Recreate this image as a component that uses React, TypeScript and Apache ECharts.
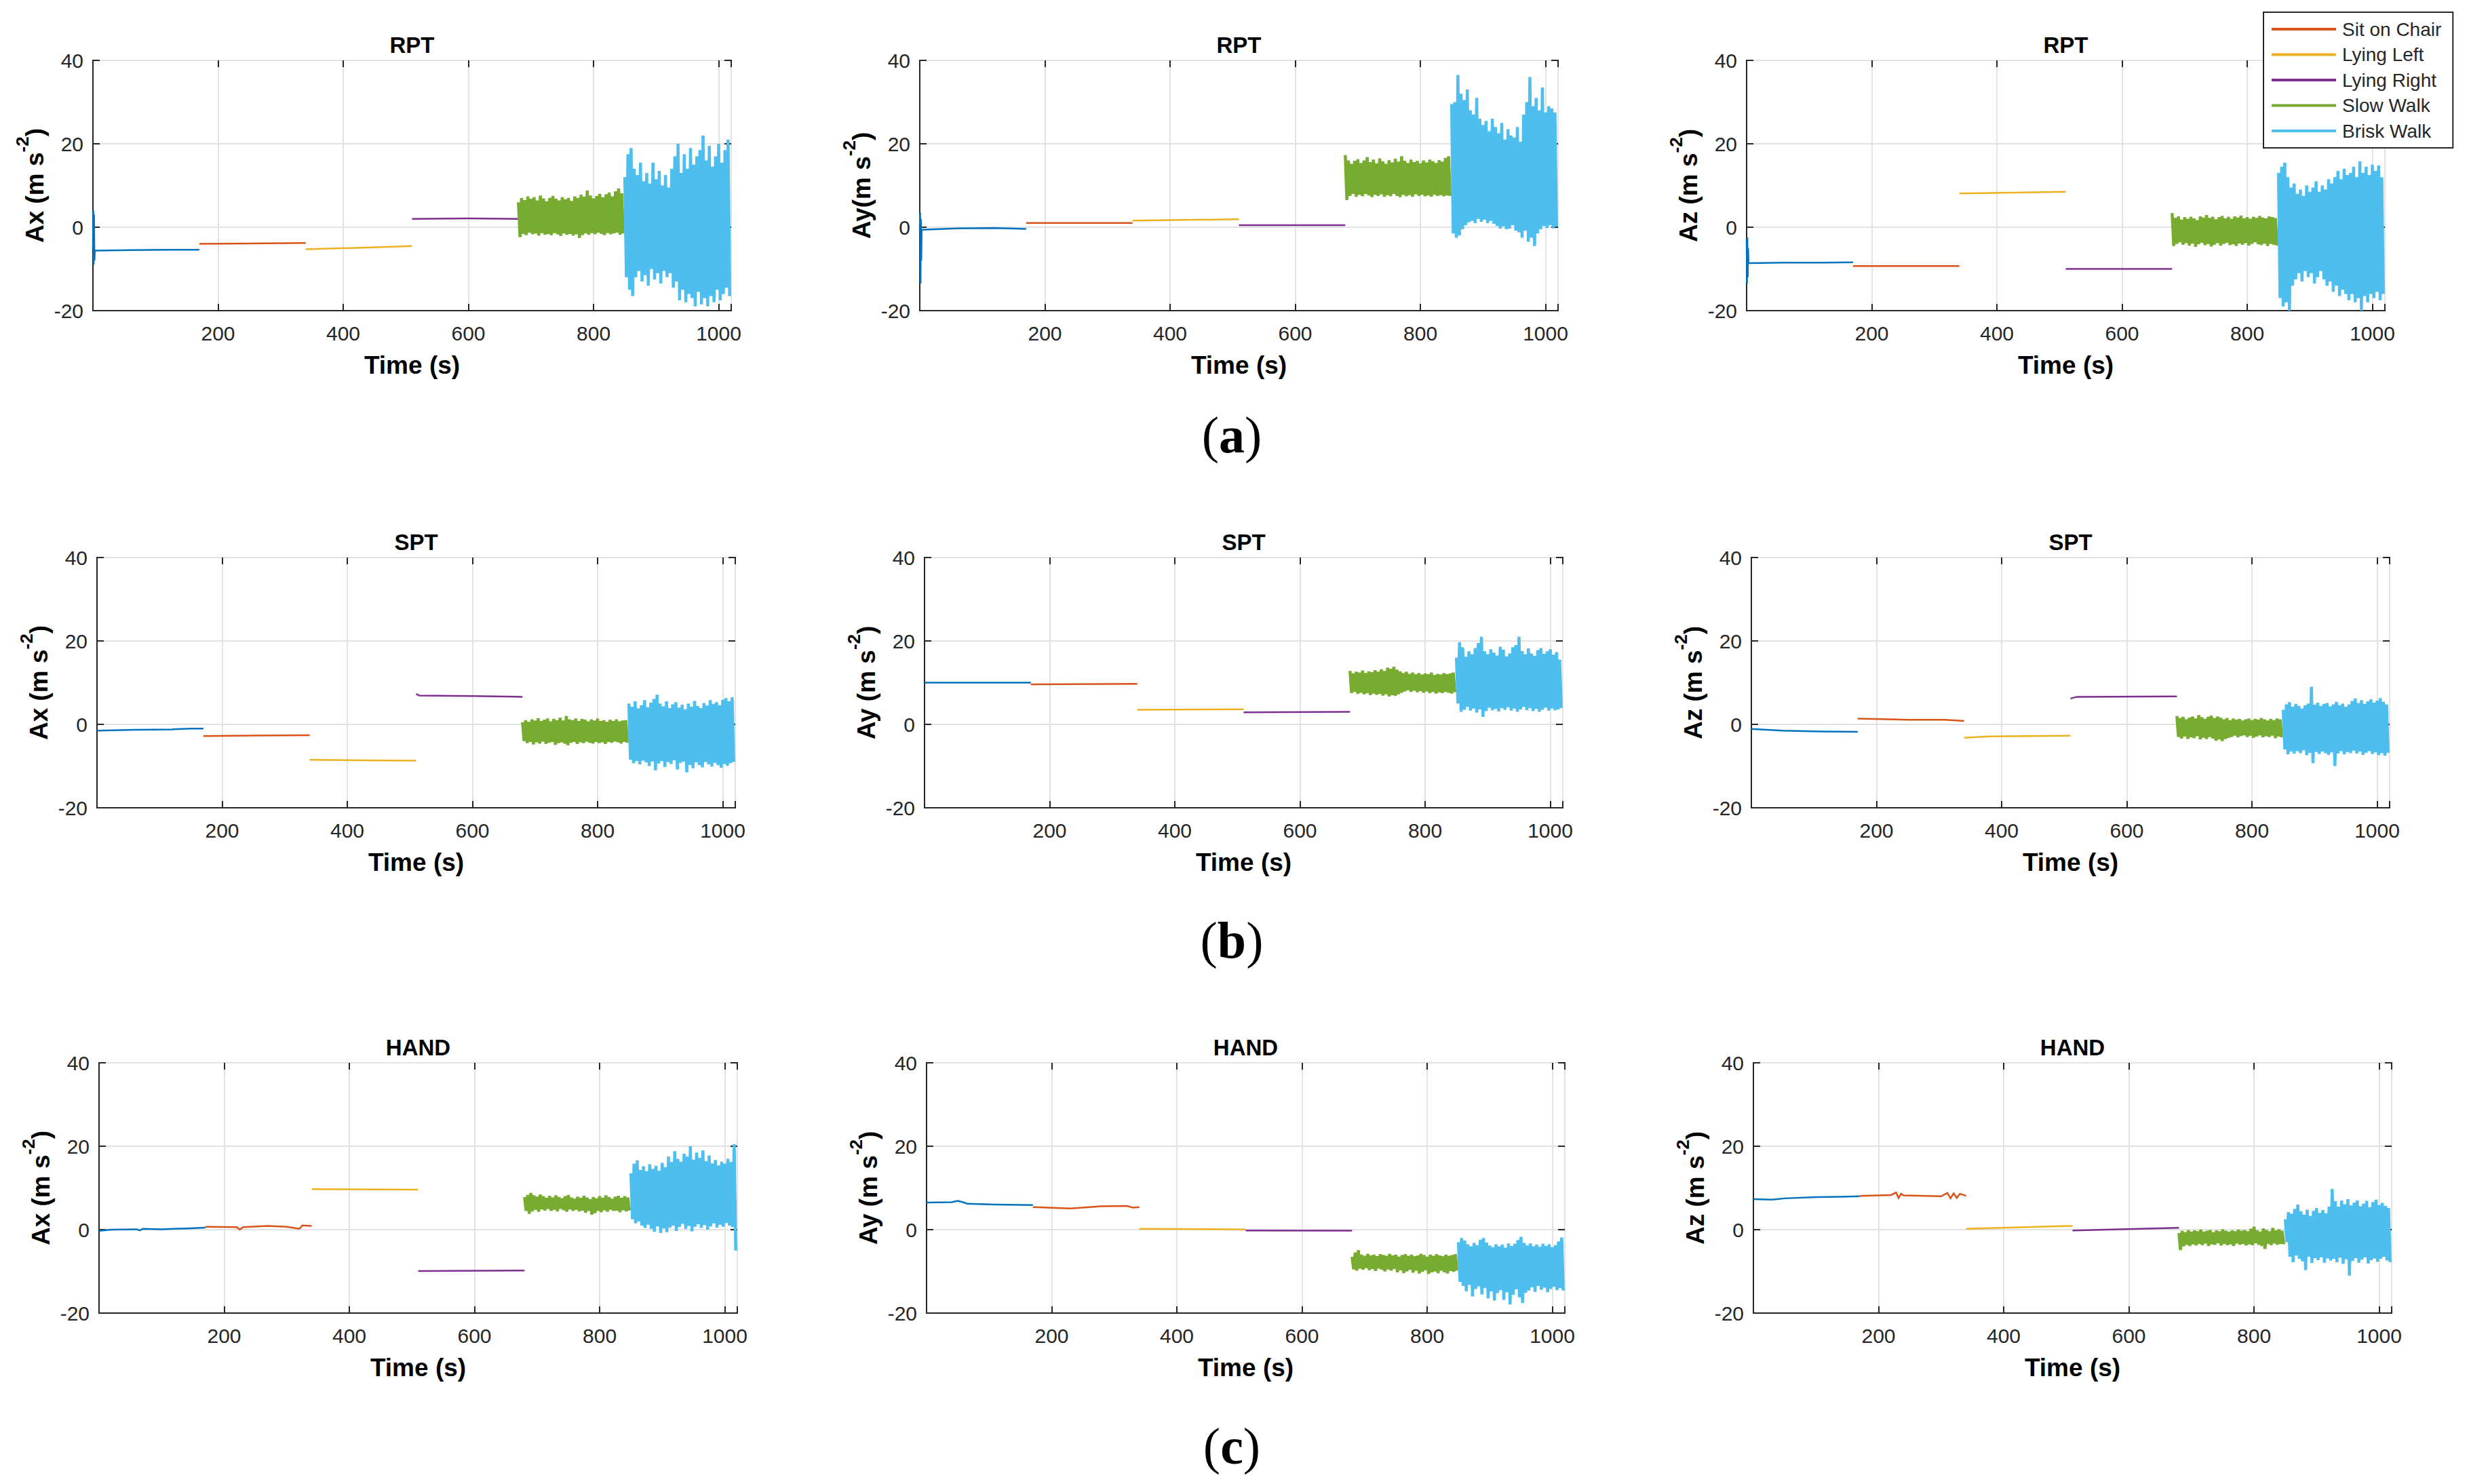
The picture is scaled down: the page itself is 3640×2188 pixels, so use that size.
import React, { useEffect, useRef } from "react";
import * as echarts from "echarts";

// ---------- categories / legend ----------
const ACTIVITIES = ["Standing", "Sit on Chair", "Lying Left", "Lying Right", "Slow Walk", "Brisk Walk"];
const LEGEND_ITEMS = ["Sit on Chair", "Lying Left", "Lying Right", "Slow Walk", "Brisk Walk"];
const COLORS = ["#0072BD", "#D95319", "#EDB120", "#7E2F8E", "#77AC30", "#4DBEEE"];
const X_TICKS = [200, 400, 600, 800, 1000];
const Y_TICKS = [-20, 0, 20, 40];
const SLOW_START = 680;
const BRISK_START = 850;
const WALK_LEN = 170;

// ---------- RPT Ax ----------
const RPT_AX_STAND = [[0, -5.2], [0.6, 4], [1.2, -9], [1.8, 3], [2.4, -8], [3, -5.6], [60, -5.5], [120, -5.4], [170, -5.4]];
const RPT_AX_SIT = [[170, -4.0], [250, -3.9], [340, -3.8]];
const RPT_AX_LL = [[340, -5.3], [430, -4.9], [510, -4.5]];
const RPT_AX_LR = [[510, 2.0], [600, 2.1], [680, 2.0]];
const RPT_AX_SLOW_HI = [6.0, 7.0, 6.5, 7.4, 6.8, 7.2, 6.4, 7.6, 6.9, 6.2, 7.0, 7.5, 6.8, 6.4, 7.2, 6.7, 7.0, 6.3, 7.4, 7.0, 7.8, 7.3, 8.8, 7.6, 6.9, 7.5, 8.0, 7.2, 7.9, 8.3, 7.4, 8.6, 9.3, 8.1];
const RPT_AX_SLOW_LO = [-2.4, -1.6, -1.9, -1.3, -1.7, -1.5, -2.0, -1.4, -1.8, -1.6, -1.9, -1.4, -1.7, -2.1, -1.5, -1.8, -1.6, -2.0, -1.7, -2.6, -1.9, -1.5, -1.8, -1.4, -1.7, -1.3, -1.6, -1.9, -1.4, -1.7, -1.5, -1.3, -1.8, -1.5];
const RPT_AX_BRISK_HI = [12, 17.5, 19, 14, 12.5, 15.5, 11, 13, 10.5, 15.5, 11.5, 13.5, 10, 12.5, 9.5, 14, 17, 20, 13, 17.5, 14, 19, 15, 17, 18.5, 22, 16, 19.5, 14.5, 17, 20, 15.5, 18.5, 21];
const RPT_AX_BRISK_LO = [-12, -15, -16.5, -12, -10.5, -13, -11.5, -14, -10, -12.5, -11, -13.5, -10.5, -12, -11, -14.5, -13, -17.5, -15, -18, -16, -17, -19, -15.5, -18.5, -17, -19, -16.5, -18, -15, -17.5, -16, -14.5, -16.5];

// ---------- RPT Ay ----------
const RPT_AY_STAND = [[0, -0.5], [0.6, 3.5], [1.2, -13.5], [1.8, 2], [2.4, -8], [3, -0.6], [60, -0.3], [120, -0.2], [170, -0.4]];
const RPT_AY_SIT = [[170, 1.0], [340, 1.0]];
const RPT_AY_LL = [[340, 1.6], [510, 1.9]];
const RPT_AY_LR = [[510, 0.5], [680, 0.5]];
const RPT_AY_SLOW_HI = [17.3, 16.0, 15.2, 15.9, 16.3, 15.4, 16.0, 16.8, 15.6, 16.2, 15.3, 16.5, 15.8, 15.2, 16.1, 15.5, 16.4, 15.7, 17.0, 15.9, 15.4, 16.2, 15.6, 15.9, 15.3, 16.0, 15.5, 16.2, 15.8, 15.4, 16.1, 15.7, 16.6, 17.0];
const RPT_AY_SLOW_LO = [6.5, 7.5, 8.0, 7.3, 7.8, 7.4, 8.0, 7.6, 7.2, 7.8, 7.5, 7.9, 7.3, 7.7, 7.4, 8.0, 7.5, 7.2, 7.8, 7.4, 7.7, 7.3, 7.9, 7.5, 7.8, 7.4, 7.6, 7.3, 7.8, 7.5, 7.7, 7.4, 7.6, 7.5];
const RPT_AY_BRISK_HI = [29.5, 30, 36.5, 32, 30.5, 33, 28, 27, 31, 26, 24.5, 25.5, 23, 26, 24, 22.5, 25, 21, 23.5, 22, 21.5, 24, 20.5, 27, 30, 36, 29, 31, 28, 33.5, 27.5, 29, 28.5, 27.5];
const RPT_AY_BRISK_LO = [-1.5, -2.5, -2, -0.5, 0.5, 1.2, 1.5, 1.0, 2.0, 1.3, 1.8, 1.0, 1.5, 0.8, 0.3, -0.3, 0.2, -0.5, -0.3, 0.5, -0.8, -1.2, -2.5, -0.8, -3.5, -2.5, -4.5, -1.5, -0.5, 0.3, -0.2, 0.5, -0.3, 0.2];

// ---------- RPT Az ----------
const RPT_AZ_STAND = [[0, -3], [0.6, -13.5], [1.2, -2.5], [1.8, -12], [2.4, -5], [3, -8.6], [60, -8.5], [120, -8.5], [170, -8.4]];
const RPT_AZ_SIT = [[170, -9.3], [340, -9.3]];
const RPT_AZ_LL = [[340, 8.1], [510, 8.5]];
const RPT_AZ_LR = [[510, -10.0], [680, -10.0]];
const RPT_AZ_SLOW_HI = [3.4, 2.2, 2.6, 1.8, 2.4, 2.0, 2.5, 2.1, 1.7, 2.6, 2.3, 2.9, 2.2, 2.5, 1.9, 2.4, 2.7, 2.1, 2.5, 2.0, 2.6, 2.3, 2.8, 2.1, 2.4, 2.0, 2.5, 2.2, 2.7, 2.3, 2.1, 2.6, 2.4, 2.2];
const RPT_AZ_SLOW_LO = [-4.5, -4.0, -3.6, -4.2, -3.8, -4.4, -3.9, -4.7, -4.1, -3.7, -4.3, -4.0, -4.6, -4.2, -3.8, -4.4, -4.0, -3.7, -4.3, -4.1, -4.5, -3.9, -4.2, -3.8, -4.4, -4.0, -3.6, -4.1, -4.3, -3.9, -4.5, -4.0, -4.2, -4.4];
const RPT_AZ_BRISK_HI = [13, 14.5, 15.5, 12, 9.5, 10.5, 8, 9, 7.5, 10, 8.5, 9.5, 11, 8.5, 10, 9, 11.5, 10.5, 12, 13.5, 11.5, 14, 12.5, 13, 14.5, 12, 15.8, 13, 14.5, 12.5, 15, 13.5, 14.8, 12];
const RPT_AZ_BRISK_LO = [-17, -19, -18, -20, -14, -12.5, -11, -13, -10.5, -12, -11, -13.5, -12, -10.5, -12.5, -14, -13, -15.5, -14, -16.5, -15, -16, -17.5, -16, -18, -17, -20, -16.5, -18, -16, -17, -15.5, -17.5, -16];

// ---------- SPT Ax ----------
const SPT_AX_STAND = [[0, -1.5], [60, -1.3], [120, -1.2], [150, -1.0], [170, -1.0]];
const SPT_AX_SIT = [[170, -2.8], [250, -2.7], [340, -2.6]];
const SPT_AX_LL = [[340, -8.5], [420, -8.6], [510, -8.7]];
const SPT_AX_LR = [[510, 7.3], [515, 6.9], [600, 6.8], [680, 6.6]];
const SPT_AX_SLOW_HI = [0.5, 1.0, 0.6, 1.2, 0.9, 1.5, 0.8, 1.1, 1.4, 0.7, 1.3, 1.0, 1.6, 0.9, 2.0, 1.2, 1.0, 1.4, 0.8, 1.3, 1.1, 0.7, 1.2, 0.9, 1.4, 0.8, 1.0, 0.6, 1.1, 0.8, 1.2, 0.7, 0.9, 1.0];
const SPT_AX_SLOW_LO = [-4.0, -4.5, -4.2, -4.8, -4.3, -4.6, -4.1, -4.7, -4.4, -4.2, -4.9, -4.5, -4.3, -4.6, -5.0, -4.4, -4.2, -4.7, -4.3, -4.5, -4.1, -4.4, -4.6, -4.2, -4.5, -4.3, -4.7, -4.2, -4.4, -4.1, -4.3, -4.6, -4.2, -4.4];
const SPT_AX_BRISK_HI = [5.0, 4.2, 5.5, 3.8, 4.6, 5.8, 4.1, 5.2, 6.1, 7.1, 5.0, 4.3, 5.5, 3.9, 4.8, 5.3, 4.0, 4.7, 3.6, 5.0, 4.2, 5.6, 4.4, 3.9, 5.1, 4.5, 5.8, 4.9, 5.3, 4.6, 5.9, 6.3, 5.5, 6.5];
const SPT_AX_BRISK_LO = [-8.5, -9.3, -8.8, -9.6, -8.7, -9.1, -10.0, -8.9, -11.0, -9.4, -8.8, -10.2, -9.0, -9.5, -8.6, -10.8, -9.2, -8.9, -11.5, -9.7, -10.5, -9.1, -9.8, -10.3, -9.0, -9.6, -10.1, -9.2, -9.8, -10.4, -9.5, -9.9, -9.3, -9.0];

// ---------- SPT Ay ----------
const SPT_AY_STAND = [[0, 10.0], [170, 10.0]];
const SPT_AY_SIT = [[170, 9.6], [340, 9.7]];
const SPT_AY_LL = [[340, 3.5], [510, 3.6]];
const SPT_AY_LR = [[510, 2.9], [680, 3.0]];
const SPT_AY_SLOW_HI = [12.8, 12.2, 12.6, 12.4, 12.9, 12.3, 12.7, 12.5, 13.0, 12.6, 13.2, 12.8, 13.6, 13.3, 13.8, 13.1, 12.7, 12.3, 12.6, 12.1, 12.4, 12.0, 12.3, 11.9, 12.2, 12.0, 12.4, 11.8, 12.1, 11.9, 12.3, 12.0, 12.2, 12.4];
const SPT_AY_SLOW_LO = [7.5, 7.8, 7.3, 7.6, 7.2, 7.5, 7.0, 7.4, 7.1, 7.3, 6.9, 7.2, 6.7, 7.0, 6.8, 7.2, 7.6, 7.9, 8.2, 7.8, 8.1, 7.7, 8.0, 7.6, 7.9, 7.5, 7.8, 7.4, 7.7, 7.5, 7.8, 7.6, 7.4, 7.7];
const SPT_AY_BRISK_HI = [16, 19.7, 18.5, 16.2, 17.5, 16.8, 18.3, 19.5, 21, 17.5, 16.8, 18.0, 17.2, 16.5, 18.6, 17.9, 16.3, 17.0, 18.5, 19.0, 21.0, 17.6, 16.8, 18.2, 17.0, 16.4, 17.8, 18.3, 16.9, 17.5, 18.0, 16.7, 17.3, 15.5];
const SPT_AY_BRISK_LO = [5.0, 3.0, 3.5, 4.2, 3.3, 3.8, 2.8, 3.6, 1.8, 3.2, 4.0, 3.4, 3.7, 3.1, 3.9, 3.5, 4.1, 3.3, 3.8, 3.0, 3.6, 4.2, 3.4, 3.9, 3.2, 3.7, 3.0, 3.5, 4.0, 3.3, 3.8, 3.4, 3.6, 3.9];

// ---------- SPT Az ----------
const SPT_AZ_STAND = [[0, -1.1], [50, -1.5], [110, -1.7], [170, -1.8]];
const SPT_AZ_SIT = [[170, 1.4], [250, 1.1], [310, 1.1], [340, 0.8]];
const SPT_AZ_LL = [[340, -3.2], [380, -2.9], [510, -2.7]];
const SPT_AZ_LR = [[510, 6.2], [520, 6.6], [680, 6.7]];
const SPT_AZ_SLOW_HI = [2.0, 1.5, 1.8, 1.2, 1.6, 1.9, 1.4, 2.2, 1.7, 1.3, 1.8, 2.1, 1.5, 1.9, 1.6, 1.2, 1.5, 1.0, 1.4, 1.1, 1.3, 0.9, 1.2, 1.4, 1.0, 1.3, 1.1, 1.5, 1.2, 0.9, 1.3, 1.0, 1.4, 1.2];
const SPT_AZ_SLOW_LO = [-3.0, -3.4, -2.9, -3.5, -3.1, -3.3, -2.8, -3.6, -3.2, -3.5, -3.0, -3.4, -3.9, -3.6, -4.0, -3.5, -3.2, -3.0, -2.7, -3.1, -2.8, -2.6, -3.0, -2.7, -3.2, -2.9, -2.6, -3.1, -2.8, -3.0, -2.7, -3.3, -2.9, -3.1];
const SPT_AZ_BRISK_HI = [3.5, 4.8, 5.3, 4.2, 4.9, 4.4, 3.8, 4.6, 5.0, 9.0, 4.7, 5.2, 4.4, 4.9, 5.1, 4.3, 4.8, 5.4, 4.6, 5.0, 4.2, 4.8, 5.6, 6.2, 5.1, 5.8, 4.9, 5.5, 6.0, 5.2, 5.7, 6.3, 5.4, 4.8];
const SPT_AZ_BRISK_LO = [-6.0, -7.2, -6.5, -7.0, -6.4, -6.9, -6.2, -7.4, -6.8, -9.3, -6.6, -7.1, -6.5, -6.9, -7.3, -6.7, -10.0, -7.0, -6.4, -7.2, -6.6, -6.9, -6.3, -7.0, -6.5, -7.3, -6.8, -6.4, -7.1, -6.7, -7.4, -6.9, -7.5, -6.8];

// ---------- HAND Ax ----------
const HAND_AX_STAND = [[0, -0.3], [20, 0.0], [60, 0.1], [65, -0.2], [70, 0.2], [100, 0.1], [140, 0.3], [170, 0.5]];
const HAND_AX_SIT = [[170, 0.7], [220, 0.6], [225, 0.0], [230, 0.6], [270, 0.9], [300, 0.7], [320, 0.2], [325, 1.0], [340, 0.9]];
const HAND_AX_LL = [[340, 9.7], [510, 9.6]];
const HAND_AX_LR = [[510, -9.9], [680, -9.8]];
const HAND_AX_SLOW_HI = [7.8, 8.3, 8.8, 8.2, 7.9, 8.4, 8.0, 7.6, 8.1, 7.7, 8.2, 7.8, 7.5, 8.0, 8.3, 7.7, 7.4, 7.9, 7.6, 8.1, 7.7, 7.3, 7.8, 7.5, 8.0, 7.6, 8.2, 7.8, 7.4, 7.9, 8.1, 7.6, 8.0, 7.7];
const HAND_AX_SLOW_LO = [4.5, 3.8, 4.4, 4.8, 4.3, 4.9, 4.6, 5.0, 4.5, 4.8, 4.4, 5.0, 4.7, 4.3, 4.9, 4.5, 4.8, 4.4, 4.6, 4.1, 4.5, 3.6, 4.0, 4.5, 4.2, 4.7, 4.3, 4.8, 4.5, 4.6, 4.2, 4.7, 4.4, 4.6];
const HAND_AX_BRISK_HI = [13.5, 15.8, 16.6, 14.3, 15.2, 14.0, 15.7, 14.6, 15.3, 14.1, 16.0, 15.0, 17.5, 16.2, 18.8, 17.0, 16.3, 18.2, 17.5, 20.0, 16.8, 18.5, 17.2, 19.0, 16.4, 17.8, 15.9, 16.7, 15.4, 16.3, 15.8, 17.0, 16.2, 20.5];
const HAND_AX_BRISK_LO = [2.5, 1.5, 2.0, 1.0, 0.4, 1.2, 0.2, -0.5, 0.8, -0.8, 0.3, -0.6, 0.5, 1.0, -0.3, 0.6, 1.4, 0.2, 0.9, -0.4, 0.7, 1.3, 0.4, 1.1, 0.0, 0.8, 1.5, 0.5, 1.2, 0.7, 1.6, 1.0, 0.6, -5.0];

// ---------- HAND Ay ----------
const HAND_AY_STAND = [[0, 6.5], [40, 6.6], [50, 6.9], [60, 6.5], [65, 6.2], [110, 6.0], [170, 5.9]];
const HAND_AY_SIT = [[170, 5.4], [230, 5.1], [280, 5.6], [320, 5.7], [330, 5.3], [340, 5.4]];
const HAND_AY_LL = [[340, 0.2], [510, 0.05]];
const HAND_AY_LR = [[510, -0.2], [680, -0.25]];
const HAND_AY_SLOW_HI = [-6.5, -5.5, -4.9, -6.0, -6.3, -5.8, -6.2, -6.0, -6.4, -5.9, -6.1, -6.3, -5.8, -6.2, -6.0, -6.5, -6.1, -5.9, -6.3, -6.0, -6.4, -6.2, -5.8, -6.1, -6.5, -6.0, -6.3, -5.9, -6.2, -6.4, -6.0, -6.3, -6.1, -5.9];
const HAND_AY_SLOW_LO = [-9.5, -9.8, -9.3, -9.6, -9.2, -9.7, -9.4, -9.9, -9.3, -9.6, -10.0, -9.5, -9.8, -9.4, -10.2, -9.7, -10.4, -10.0, -9.6, -10.3, -9.8, -10.5, -10.1, -9.7, -10.6, -10.2, -10.0, -10.4, -9.8, -10.2, -10.5, -9.9, -10.1, -9.8];
const HAND_AY_BRISK_HI = [-3.0, -2.0, -2.6, -3.5, -4.0, -3.2, -3.7, -2.4, -2.0, -3.1, -3.8, -4.2, -3.5, -4.0, -3.6, -4.3, -3.3, -3.9, -3.4, -2.5, -1.7, -3.2, -3.8, -3.3, -4.0, -3.6, -4.1, -3.4, -3.9, -3.5, -4.2, -3.7, -2.8, -1.9];
const HAND_AY_BRISK_LO = [-12.5, -13.5, -14.8, -13.2, -16.0, -14.2, -13.6, -15.5, -14.0, -16.5, -14.8, -17.0, -15.2, -14.5, -16.8, -15.0, -17.9, -15.6, -14.3, -16.2, -17.6, -15.1, -14.6, -13.8, -14.9, -13.5, -14.4, -13.9, -15.0, -14.2, -13.7, -14.5, -14.0, -14.6];

// ---------- HAND Az ----------
const HAND_AZ_STAND = [[0, 7.3], [30, 7.2], [50, 7.5], [100, 7.8], [140, 7.9], [170, 8.0]];
const HAND_AZ_SIT = [[170, 8.1], [220, 8.3], [228, 8.9], [232, 7.6], [236, 8.6], [240, 8.2], [300, 8.0], [310, 8.8], [315, 7.5], [320, 8.7], [325, 7.6], [330, 8.6], [340, 8.1]];
const HAND_AZ_LL = [[340, 0.2], [510, 0.9]];
const HAND_AZ_LR = [[510, -0.2], [680, 0.45]];
const HAND_AZ_SLOW_HI = [-0.8, -0.3, -0.6, -0.1, -0.5, -0.2, -0.4, 0.0, -0.5, -0.3, -0.1, -0.6, -0.2, -0.4, 0.1, -0.3, -0.5, -0.2, -0.4, 0.0, -0.3, -0.1, -0.4, 0.2, 0.7, -0.2, -0.5, 0.3, -0.1, -0.4, 0.4, -0.2, 0.1, -0.3];
const HAND_AZ_SLOW_LO = [-4.9, -4.0, -3.6, -3.9, -3.5, -3.8, -3.4, -3.7, -3.3, -3.9, -3.5, -3.6, -3.2, -3.8, -3.4, -3.7, -3.5, -3.9, -3.3, -3.6, -3.4, -3.8, -3.5, -3.7, -3.2, -3.6, -3.9, -4.6, -3.4, -3.7, -3.3, -3.6, -3.4, -3.5];
const HAND_AZ_BRISK_HI = [2.5, 4.2, 3.8, 5.0, 6.0, 4.4, 3.6, 4.8, 3.3, 4.5, 5.2, 4.0, 4.7, 3.9, 5.5, 9.8, 6.8, 5.5, 7.0, 6.1, 7.3, 5.8, 6.5, 7.0, 5.6, 6.2, 6.9, 5.4, 6.6, 7.2, 5.9, 6.4, 5.7, 5.2];
const HAND_AZ_BRISK_LO = [-3.0, -6.5, -7.8, -6.2, -7.0, -7.6, -9.7, -6.5, -8.0, -6.8, -7.3, -6.6, -7.9, -6.9, -7.4, -7.0, -7.8, -6.7, -8.2, -7.1, -11.0, -7.5, -6.8, -7.9, -7.2, -6.6, -8.1, -7.3, -6.9, -7.7, -7.0, -6.5, -7.4, -7.8];

// ---------- panel texts ----------
const ROW_TITLES = ["RPT", "SPT", "HAND"];
const PANEL_LABELS = ["a", "b", "c"];
const Y_NAMES = [
  ["Ax (m s", "Ay(m s", "Az (m s"],
  ["Ax (m s", "Ay (m s", "Az (m s"],
  ["Ax (m s", "Ay (m s", "Az (m s"],
];
const X_NAME = "Time (s)";

const PANEL_DATA = [
  [
    [RPT_AX_STAND, RPT_AX_SIT, RPT_AX_LL, RPT_AX_LR, RPT_AX_SLOW_HI, RPT_AX_SLOW_LO, RPT_AX_BRISK_HI, RPT_AX_BRISK_LO],
    [RPT_AY_STAND, RPT_AY_SIT, RPT_AY_LL, RPT_AY_LR, RPT_AY_SLOW_HI, RPT_AY_SLOW_LO, RPT_AY_BRISK_HI, RPT_AY_BRISK_LO],
    [RPT_AZ_STAND, RPT_AZ_SIT, RPT_AZ_LL, RPT_AZ_LR, RPT_AZ_SLOW_HI, RPT_AZ_SLOW_LO, RPT_AZ_BRISK_HI, RPT_AZ_BRISK_LO],
  ],
  [
    [SPT_AX_STAND, SPT_AX_SIT, SPT_AX_LL, SPT_AX_LR, SPT_AX_SLOW_HI, SPT_AX_SLOW_LO, SPT_AX_BRISK_HI, SPT_AX_BRISK_LO],
    [SPT_AY_STAND, SPT_AY_SIT, SPT_AY_LL, SPT_AY_LR, SPT_AY_SLOW_HI, SPT_AY_SLOW_LO, SPT_AY_BRISK_HI, SPT_AY_BRISK_LO],
    [SPT_AZ_STAND, SPT_AZ_SIT, SPT_AZ_LL, SPT_AZ_LR, SPT_AZ_SLOW_HI, SPT_AZ_SLOW_LO, SPT_AZ_BRISK_HI, SPT_AZ_BRISK_LO],
  ],
  [
    [HAND_AX_STAND, HAND_AX_SIT, HAND_AX_LL, HAND_AX_LR, HAND_AX_SLOW_HI, HAND_AX_SLOW_LO, HAND_AX_BRISK_HI, HAND_AX_BRISK_LO],
    [HAND_AY_STAND, HAND_AY_SIT, HAND_AY_LL, HAND_AY_LR, HAND_AY_SLOW_HI, HAND_AY_SLOW_LO, HAND_AY_BRISK_HI, HAND_AY_BRISK_LO],
    [HAND_AZ_STAND, HAND_AZ_SIT, HAND_AZ_LL, HAND_AZ_LR, HAND_AZ_SLOW_HI, HAND_AZ_SLOW_LO, HAND_AZ_BRISK_HI, HAND_AZ_BRISK_LO],
  ],
];

// ---------- layout (pixels) ----------
const PAGE_W = 3640;
const PAGE_H = 2188;
const ROW_TOP = [89, 822, 1567];
const ROW_LEFT = [
  [137, 1356, 2575],
  [143, 1363, 2582],
  [146, 1366, 2585],
];
const PLOT_W = 941;
const PLOT_H = 369;
const TITLE_DY = 23;
const XNAME_DY = 80;
const YNAME_DX = 92;
const PANEL_LABEL_X = 1816;
const PANEL_LABEL_Y = [641, 1386, 2132];

const SANS = '"Liberation Sans", Arial, Helvetica, sans-serif';
const SERIF = '"Liberation Serif", "Times New Roman", serif';
const INK = "#262626";
const GRIDLINE = "#e2e2e2";

// walk segments: alternate between the upper and lower envelope
function zigzag(start: number, hi: number[], lo: number[]) {
  const step = WALK_LEN / hi.length;
  const out: number[][] = [];
  for (let i = 0; i < hi.length; i++) {
    out.push([start + i * step, hi[i]]);
    out.push([start + i * step + step / 2, lo[i]]);
  }
  return out;
}

function buildOption() {
  const grid: any[] = [];
  const xAxis: any[] = [];
  const yAxis: any[] = [];
  const series: any[] = [];
  const graphic: any[] = [];

  for (let r = 0; r < 3; r++) {
    for (let c = 0; c < 3; c++) {
      const i = r * 3 + c;
      const left = ROW_LEFT[r][c];
      const top = ROW_TOP[r];
      grid.push({
        left,
        top,
        width: PLOT_W,
        height: PLOT_H,
        show: true,
        borderColor: INK,
        borderWidth: 2,
        backgroundColor: "transparent",
        containLabel: false,
      });
      const tickStyle = { show: true, inside: true, length: 10, lineStyle: { color: INK, width: 2 } };
      xAxis.push({
        gridIndex: i,
        type: "value",
        position: "bottom",
        min: 0,
        max: 1020,
        interval: 200,
        axisLine: { show: true, onZero: false, lineStyle: { color: INK, width: 2 } },
        axisTick: tickStyle,
        axisLabel: {
          show: true,
          fontSize: 30,
          color: INK,
          fontFamily: SANS,
          margin: 18,
          formatter: (v: number) => (X_TICKS.indexOf(v) >= 0 ? String(v) : ""),
        },
        splitLine: { show: true, lineStyle: { color: GRIDLINE, width: 2 } },
      });
      xAxis.push({
        gridIndex: i,
        type: "value",
        position: "top",
        min: 0,
        max: 1020,
        interval: 200,
        axisLine: { show: false, onZero: false },
        axisTick: tickStyle,
        axisLabel: { show: false },
        splitLine: { show: false },
      });
      yAxis.push({
        gridIndex: i,
        type: "value",
        position: "left",
        min: -20,
        max: 40,
        interval: 20,
        axisLine: { show: true, onZero: false, lineStyle: { color: INK, width: 2 } },
        axisTick: tickStyle,
        axisLabel: {
          show: true,
          fontSize: 30,
          color: INK,
          fontFamily: SANS,
          margin: 14,
          formatter: (v: number) => (Y_TICKS.indexOf(v) >= 0 ? String(v) : ""),
        },
        splitLine: { show: true, lineStyle: { color: GRIDLINE, width: 2 } },
      });
      yAxis.push({
        gridIndex: i,
        type: "value",
        position: "right",
        min: -20,
        max: 40,
        interval: 20,
        axisLine: { show: false, onZero: false },
        axisTick: tickStyle,
        axisLabel: { show: false },
        splitLine: { show: false },
      });

      const d = PANEL_DATA[r][c];
      const segData = [
        d[0],
        d[1],
        d[2],
        d[3],
        zigzag(SLOW_START, d[4] as number[], d[5] as number[]),
        zigzag(BRISK_START, d[6] as number[], d[7] as number[]),
      ];
      segData.forEach((data, k) => {
        series.push({
          type: "line",
          name: ACTIVITIES[k],
          xAxisIndex: 2 * i,
          yAxisIndex: 2 * i,
          data,
          showSymbol: false,
          symbol: "none",
          silent: true,
          clip: true,
          color: COLORS[k],
          itemStyle: { color: COLORS[k] },
          lineStyle: { color: COLORS[k], width: k >= 4 ? 4.5 : 2.5, join: "miter", miterLimit: 4 },
          z: 3,
        });
      });

      const cx = left + PLOT_W / 2;
      graphic.push({
        type: "text",
        x: cx,
        y: top - TITLE_DY,
        style: {
          text: ROW_TITLES[r],
          fontSize: 33,
          fontWeight: "bold",
          fontFamily: SANS,
          fill: "#000",
          textAlign: "center",
          textVerticalAlign: "middle",
          align: "center",
          verticalAlign: "middle",
        },
      });
      graphic.push({
        type: "text",
        x: cx,
        y: top + PLOT_H + XNAME_DY,
        style: {
          text: X_NAME,
          fontSize: 37,
          fontWeight: "bold",
          fontFamily: SANS,
          fill: "#000",
          textAlign: "center",
          textVerticalAlign: "middle",
          align: "center",
          verticalAlign: "middle",
        },
      });
      graphic.push({
        type: "text",
        x: left - YNAME_DX,
        y: top + PLOT_H / 2,
        rotation: Math.PI / 2,
        style: {
          text: "{m|" + Y_NAMES[r][c] + "}{s|-2}{m|)}",
          fill: "#000",
          fontSize: 37,
          fontWeight: "bold",
          fontFamily: SANS,
          textAlign: "center",
          textVerticalAlign: "middle",
          align: "center",
          verticalAlign: "middle",
          rich: {
            m: { fontSize: 37, fontWeight: "bold", fontFamily: SANS, lineHeight: 50, verticalAlign: "bottom", fill: "#000" },
            s: { fontSize: 26, fontWeight: "bold", fontFamily: SANS, lineHeight: 26, verticalAlign: "top", fill: "#000" },
          },
        },
      });
    }
    graphic.push({
      type: "text",
      x: PANEL_LABEL_X,
      y: PANEL_LABEL_Y[r],
      style: {
        text: "{p|(}{b|" + PANEL_LABELS[r] + "}{p|)}",
        fill: "#000",
        fontSize: 76,
        fontFamily: SERIF,
        textAlign: "center",
        textVerticalAlign: "middle",
        align: "center",
        verticalAlign: "middle",
        rich: {
          p: { fontSize: 76, fontFamily: SERIF, fill: "#000" },
          b: { fontSize: 76, fontFamily: SERIF, fontWeight: "bold", fill: "#000" },
        },
      },
    });
  }

  return {
    animation: false,
    backgroundColor: "#ffffff",
    grid,
    xAxis,
    yAxis,
    series,
    graphic,
    legend: {
      show: true,
      data: LEGEND_ITEMS,
      orient: "vertical",
      left: 3337,
      top: 18,
      padding: [11, 17, 11, 12],
      itemGap: 9.5,
      itemWidth: 95,
      itemHeight: 4,
      icon: "rect",
      selectedMode: false,
      backgroundColor: "#ffffff",
      borderColor: INK,
      borderWidth: 2,
      borderRadius: 0,
      z: 20,
      textStyle: { fontSize: 28, color: INK, fontFamily: SANS, padding: [0, 0, 0, 4] },
    },
  };
}

export default function App() {
  const ref = useRef<HTMLDivElement>(null);
  useEffect(() => {
    if (!ref.current) return;
    const chart = echarts.init(ref.current, undefined, { renderer: "svg" });
    chart.setOption(buildOption() as any);
    return () => chart.dispose();
  }, []);
  return (
    <div
      ref={ref}
      style={{ position: "absolute", left: 0, top: 0, width: PAGE_W, height: PAGE_H, background: "#fff" }}
    />
  );
}
